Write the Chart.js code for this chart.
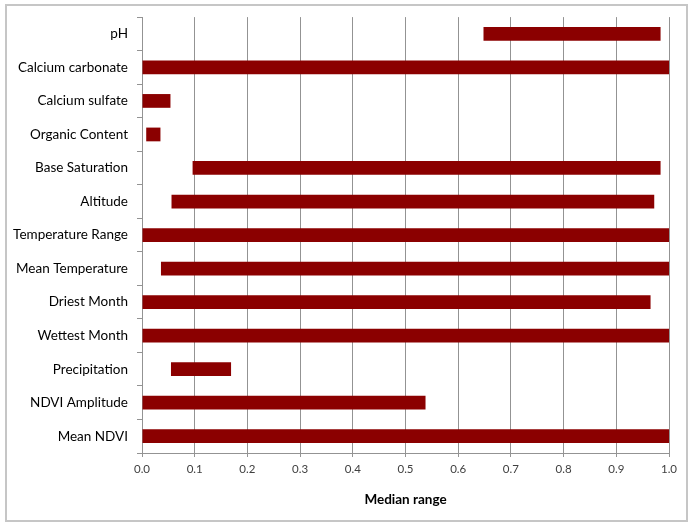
<!DOCTYPE html>
<html>
<head>
    <title>Median range</title>
    <script src="https://cdn.jsdelivr.net/npm/chart.js"></script>
    <style>
        body { margin: 0; background: #fff; }
        #wrap { position: relative; width: 693px; height: 525px; }
        #frame { position: absolute; left: 5px; top: 4px; width: 679px; height: 514px;
                 border: 2px solid #c6c6c6; pointer-events: none; }
    </style>
</head>
<body>
    <div id="wrap">
        <canvas id="rangeChart" width="693" height="525"></canvas>
        <div id="frame"></div>
    </div>

    <script>
        const categories = ['pH', 'Calcium carbonate', 'Calcium sulfate', 'Organic Content',
            'Base Saturation', 'Altitude', 'Temperature Range', 'Mean Temperature',
            'Driest Month', 'Wettest Month', 'Precipitation', 'NDVI Amplitude', 'Mean NDVI'];
        const rangeStart = [0.648, 0, 0, 0.008, 0.096, 0.056, 0, 0.036, 0, 0, 0.055, 0, 0];
        const rangeEnd   = [0.984, 1, 0.054, 0.035, 0.984, 0.972, 1, 1, 0.965, 1, 0.169, 0.538, 1];
        const xTicks = [0, 0.1, 0.2, 0.3, 0.4, 0.5, 0.6, 0.7, 0.8, 0.9, 1.0];

        const gridGrey = '#939393';

        const ctx = document.getElementById('rangeChart').getContext('2d');
        const chart = new Chart(ctx, {
            type: 'bar',
            data: {
                labels: categories,
                datasets: [{
                    label: 'Median range',
                    data: categories.map((c, i) => [rangeStart[i], rangeEnd[i]]),
                    backgroundColor: '#8b0000',
                    borderWidth: 0,
                    borderSkipped: false,
                    barPercentage: 0.41,
                    categoryPercentage: 1.0
                }]
            },
            options: {
                indexAxis: 'y',
                responsive: false,
                animation: false,
                layout: { padding: { left: 0, right: 24, top: 17, bottom: 0 } },
                plugins: {
                    legend: { display: false },
                    tooltip: { enabled: false }
                },
                scales: {
                    x: {
                        min: 0,
                        max: 1,
                        afterBuildTicks: scale => { scale.ticks = xTicks.map(v => ({ value: v })); },
                        afterFit: scale => { scale.height = 72; },
                        ticks: {
                            callback: v => v.toFixed(1),
                            color: '#404040',
                            font: { family: 'Lato', size: 11.5 },
                            padding: 5,
                            maxRotation: 0
                        },
                        grid: { color: gridGrey, lineWidth: 1, tickLength: 4 },
                        border: { color: gridGrey },
                        title: {
                            display: true,
                            text: 'Median range',
                            color: '#000',
                            font: { family: 'Lato', size: 13.5, weight: 'bold' },
                            padding: { top: 0, bottom: 17 }
                        }
                    },
                    y: {
                        afterFit: scale => { scale.width = 142; },
                        ticks: {
                            color: '#000',
                            font: { family: 'Lato', size: 13.5 },
                            padding: 9
                        },
                        grid: { offset: true, drawOnChartArea: false, color: gridGrey, tickLength: 5 },
                        border: { color: gridGrey }
                    }
                }
            }
        });
    </script>
</body>
</html>
